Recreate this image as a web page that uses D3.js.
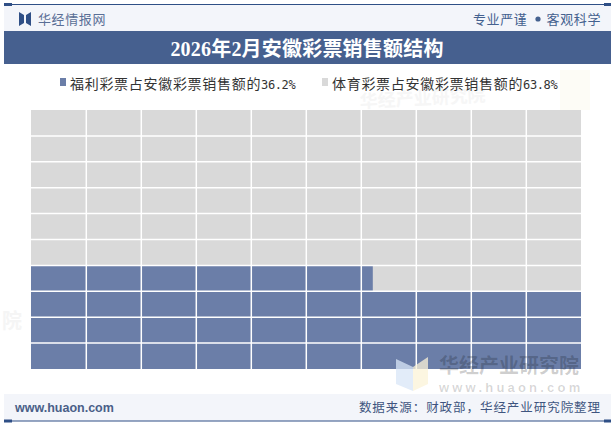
<!DOCTYPE html>
<html><head><meta charset="utf-8">
<script src="https://cdn.jsdelivr.net/npm/d3@7/dist/d3.min.js"></script>
<style>html,body{margin:0;padding:0;background:#fff}svg{display:block}</style></head>
<body><svg id="c" width="615" height="427"></svg>
<script>
const titleText = "2026年2月安徽彩票销售额结构";
const seriesNames = ["福利彩票占安徽彩票销售额的", "体育彩票占安徽彩票销售额的"];
const seriesValues = [36.2, 63.8];
const seriesColors = ["#6b7ea8", "#d9d9d9"];
const gridCols = d3.range(10);
const gridRows = d3.range(10);

const svg = d3.select("#c");
const cjk = "'Noto Sans CJK SC',sans-serif";
const navy = "#2f4f86";

// watermarks behind the chart
const wm = svg.append("g");
wm.append("text").attr("x",360).attr("y",108).attr("font-family",cjk).attr("font-size",18).attr("font-weight",700)
  .attr("fill","#f6f6f6").attr("transform","rotate(-3 360 108)").text("华经产业研究院");
wm.append("rect").attr("x",560).attr("y",70).attr("width",30).attr("height",40).attr("fill","#fdfcf6");
wm.append("text").attr("x",2).attr("y",328).attr("font-family",cjk).attr("font-size",20).attr("font-weight",700)
  .attr("fill","#f5f5f5").text("院");

// header band
svg.append("rect").attr("x",4).attr("y",5).attr("width",607).attr("height",26).attr("fill","#f3f5fa");
svg.append("rect").attr("x",4).attr("y",394).attr("width",607).attr("height",27).attr("fill","#f3f5fa");
[4.5,421].forEach(y=>{
  svg.append("line").attr("x1",4).attr("x2",611).attr("y1",y).attr("y2",y).attr("stroke",navy).attr("stroke-width",1);
  svg.append("rect").attr("x",4).attr("y",y-1.5).attr("width",8).attr("height",3).attr("fill",navy);
  svg.append("rect").attr("x",604).attr("y",y-1.5).attr("width",7).attr("height",3).attr("fill",navy);
});
// logo
svg.append("path").attr("d","M19 12 L24 15 L24 23 L19 26 Z M31 12 L26 15 L26 23 L31 26 Z").attr("fill",navy);
svg.append("text").attr("x",38).attr("y",24).attr("font-family",cjk).attr("font-size",13).attr("letter-spacing",0.6).attr("fill","#5a6f96").text("华经情报网");
const tagL = svg.append("text").attr("x",473).attr("y",24).attr("font-family",cjk).attr("font-size",13).attr("letter-spacing",0.6).attr("fill","#44618f").text("专业严谨");
const tagR = svg.append("text").attr("x",601).attr("y",24).attr("text-anchor","end").attr("font-family",cjk).attr("font-size",13).attr("letter-spacing",0.6).attr("fill","#44618f").text("客观科学");
svg.append("circle").attr("cx",538).attr("cy",19).attr("r",2.6).attr("fill","#44618f");

// title
svg.append("rect").attr("x",4).attr("y",31).attr("width",607).attr("height",33).attr("fill","#46608f");
svg.append("text").attr("x",307).attr("y",55.5).attr("text-anchor","middle").attr("font-family","'Liberation Serif',"+cjk)
  .attr("font-size",20).attr("font-weight",700).attr("letter-spacing",0.2).attr("fill","#fff").text(titleText);

// legend
const legendX = [60,322];
seriesNames.forEach((n,i)=>{
  svg.append("rect").attr("x",legendX[i]).attr("y",78).attr("width",6).attr("height",8).attr("fill",seriesColors[i]);
  const t = svg.append("text").attr("x",legendX[i]+10).attr("y",88.5).attr("font-family",cjk).attr("font-size",14).attr("letter-spacing",0.7).attr("fill","#333");
  t.append("tspan").text(n);
  t.append("tspan").attr("font-family","'DejaVu Sans Mono',monospace").attr("font-size",12).attr("letter-spacing",-0.4).text(seriesValues[i].toFixed(1)+"%");
});

// waffle
const x = d3.scaleLinear().domain([0,gridCols.length]).range([31,581]);
const y = d3.scaleLinear().domain([0,gridRows.length]).range([369,110]);
const perRow = gridCols.length, unit = 100/(gridCols.length*gridRows.length);
const g = svg.append("g");
g.selectAll("rect.bg").data([0]).join("rect").attr("class","bg")
  .attr("x",x(0)).attr("y",y(gridRows.length)).attr("width",x(perRow)-x(0)).attr("height",y(0)-y(gridRows.length)).attr("fill",seriesColors[1]);
const cells = seriesValues[0]/unit;
const fullRows = Math.floor(cells/perRow), rest = cells-fullRows*perRow;
g.append("rect").attr("x",x(0)).attr("y",y(fullRows)).attr("width",x(perRow)-x(0)).attr("height",y(0)-y(fullRows)).attr("fill",seriesColors[0]);
g.append("rect").attr("x",x(0)).attr("y",y(fullRows+1)).attr("width",x(rest)-x(0)+0.8).attr("height",y(fullRows)-y(fullRows+1)).attr("fill",seriesColors[0]);
g.selectAll("line.v").data(gridCols.slice(1)).join("line").attr("class","v")
  .attr("x1",d=>x(d)+0.3).attr("x2",d=>x(d)+0.3).attr("y1",y(gridRows.length)).attr("y2",y(0)).attr("stroke","#fff").attr("stroke-width",1.5);
g.selectAll("line.h").data(gridRows.slice(1)).join("line").attr("class","h")
  .attr("y1",d=>y(d)).attr("y2",d=>y(d)).attr("x1",x(0)).attr("x2",x(perRow)).attr("stroke","#fff").attr("stroke-width",1.5);

// bottom right watermark
const wb = svg.append("g").attr("opacity",0.75);
wb.append("path").attr("d","M396 359 L413 367 L413 391 L396 384 Z").attr("fill","#d9e6f7");
wb.append("path").attr("d","M413 367 L428 357 L428 384 L413 391 Z").attr("fill","#fbf3d8");
svg.append("text").attr("x",439).attr("y",373).attr("font-family",cjk).attr("font-size",20).attr("font-weight",700).attr("fill","#000").attr("fill-opacity",0.2).text("华经产业研究院");
svg.append("text").attr("x",439).attr("y",392).attr("font-family","'Liberation Sans',sans-serif").attr("font-size",13).attr("font-weight",700).attr("letter-spacing",3.2).attr("fill","#000").attr("fill-opacity",0.16).text("www.huaon.com");

// footer
svg.append("text").attr("x",15).attr("y",412).attr("font-family","'Liberation Sans',sans-serif").attr("font-size",12.5).attr("font-weight",700).attr("fill","#4a5f88").text("www.huaon.com");
svg.append("text").attr("x",601).attr("y",412).attr("text-anchor","end").attr("font-family",cjk).attr("font-size",12.5).attr("letter-spacing",0.95).attr("fill","#3f557f").text("数据来源：财政部，华经产业研究院整理");
</script></body></html>
